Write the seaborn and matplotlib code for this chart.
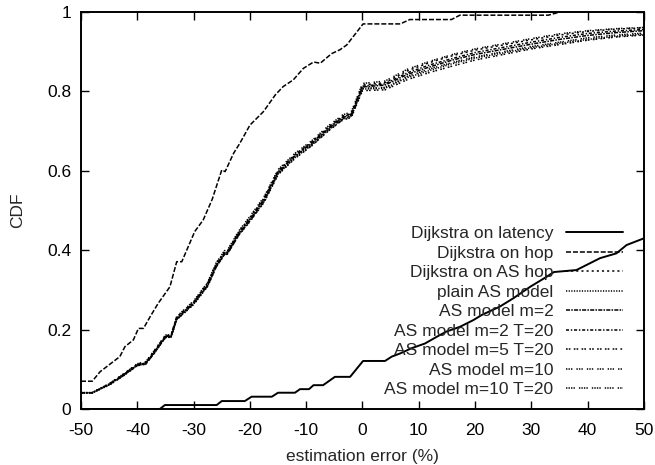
import matplotlib
matplotlib.use("Agg")
import matplotlib.pyplot as plt
import seaborn as sns

# ---------------- data ----------------
lat_x = [-50, -36, -35.1, -25.9, -25, -20.9, -19.7, -16.1, -15, -12, -11.1, -9.5, -8.7, -7, -4.9, -2.2,
         0.1, 4, 5.2, 6.7, 8.7, 11.1, 13.2, 14.9, 17.3, 19.7, 21.2, 24.4, 26.8, 29.8, 32.7, 34,
         38, 42.2, 45.1, 46.9, 50]
lat_y = [0, 0, .010, .010, .020, .020, .031, .031, .041, .041, .050, .050, .060, .060, .081, .081,
         .121, .121, .132, .140, .153, .165, .182, .195, .207, .224, .237, .258, .279, .308, .333, .345,
         .350, .380, .392, .413, .430]

hop_x = [-50, -48, -46.6, -43.1, -42.2, -40.7, -39.8, -38.9, -37.7, -36.3, -34.2, -33, -32.1, -29.8,
         -28.3, -26.7, -25, -24.4, -22.9, -21.8, -20, -18.8, -17.6, -15.5, -14.1, -12.3, -10.5, -8.7,
         -7.5, -5.5, -4, -2.8, 0.1, 6.7, 8.4, 15.8, 17.3, 33, 35.1, 50]
hop_y = [.070, .070, .094, .132, .157, .174, .203, .203, .233, .266, .308, .371, .371, .447,
         .476, .528, .602, .598, .644, .669, .715, .732, .749, .791, .812, .829, .858, .874,
         .871, .895, .905, .917, .970, .970, .981, .981, .992, .992, 1.0, 1.0]

bx = [-50, -48, -45, -42.5, -40, -38.5, -37, -35, -34, -33, -30, -27.5, -26, -24.5, -24, -22, -20,
      -17.5, -15, -12, -9, -6, -3.5, -2, 0, 4, 8, 12, 16, 20, 25, 30, 35, 40, 45, 50]

ashop_y = [.041, .041, .063, .087, .113, .118, .146, .185, .186, .232, .270, .318, .366, .397, .398,
           .446, .482, .531, .600, .641, .673, .711, .738, .744, .816, .822, .852, .873, .890, .904,
           .917, .930, .942, .951, .957, .960]
plain_y = [.041, .041, .061, .084, .110, .114, .141, .181, .182, .226, .264, .310, .358, .390, .391,
           .438, .474, .522, .592, .633, .665, .703, .730, .737, .806, .808, .835, .853, .870, .884,
           .897, .910, .921, .931, .939, .944]
m2_y = [.041, .041, .062, .086, .111, .116, .143, .183, .184, .229, .267, .313, .361, .393, .394,
        .441, .477, .526, .596, .637, .669, .707, .734, .741, .811, .816, .843, .862, .879, .893,
        .906, .919, .931, .941, .948, .953]
m2t20_y = [.041, .041, .063, .085, .112, .115, .142, .182, .183, .227, .268, .314, .363, .394, .395,
           .443, .479, .528, .598, .639, .671, .709, .736, .743, .813, .819, .847, .867, .883, .898,
           .911, .924, .936, .946, .952, .956]
m5t20_y = [.041, .041, .060, .083, .109, .113, .140, .180, .181, .225, .263, .309, .357, .389, .390,
           .437, .472, .520, .590, .631, .663, .701, .728, .734, .802, .804, .830, .848, .864, .879,
           .893, .907, .918, .929, .937, .942]
m10_y = [.041, .041, .064, .088, .114, .119, .147, .186, .187, .233, .272, .319, .368, .399, .400,
         .448, .485, .534, .603, .644, .676, .714, .741, .748, .820, .826, .856, .876, .893, .907,
         .920, .933, .945, .953, .958, .961]
m10t20_y = [.041, .041, .061, .084, .110, .113, .141, .180, .181, .226, .265, .311, .359, .390, .391,
            .439, .475, .523, .593, .634, .666, .704, .731, .738, .808, .810, .838, .857, .873, .887,
            .900, .913, .924, .935, .942, .947]

labels = ["Dijkstra on latency", "Dijkstra on hop", "Dijkstra on AS hop", "plain AS model",
          "AS model m=2", "AS model m=2 T=20", "AS model m=5 T=20", "AS model m=10",
          "AS model m=10 T=20"]

x_ticks = [-50, -40, -30, -20, -10, 0, 10, 20, 30, 40, 50]
y_ticks = [0, 0.2, 0.4, 0.6, 0.8, 1.0]
y_ticklabels = ["0", "0.2", "0.4", "0.6", "0.8", "1"]

# ---------------- style ----------------
sns.set_theme(style="ticks")
plt.rcParams["font.family"] = ["Liberation Sans", "DejaVu Sans"]
plt.rcParams["lines.scale_dashes"] = False

fig = plt.figure(figsize=(6.55, 4.65), dpi=100)
ax = fig.add_axes([81 / 655, 1 - 409 / 465, 563 / 655, 397 / 465])

series = [
    (lat_x, lat_y, "-", 1.4),
    (hop_x, hop_y, (0, (3.6, 1.4)), 1.1),
    (bx, ashop_y, (0, (1.5, 2.2)), 1.1),
    (bx, plain_y, (0, (0.9, 1.0)), 1.1),
    (bx, m2_y, (0, (2.9, 0.9, 1.1, 0.9)), 1.1),
    (bx, m2t20_y, (0, (2.2, 1.3, 1.0, 1.3)), 1.1),
    (bx, m5t20_y, (0, (1.2, 0.8, 1.2, 2.4)), 1.1),
    (bx, m10_y, (0, (1.0, 0.8, 1.0, 0.8, 1.0, 2.9)), 1.1),
    (bx, m10t20_y, (0, (1.0, 0.8, 1.0, 0.8, 1.0, 0.8, 1.0, 2.9)), 1.1),
]
for (xs, ys, ls, lw), lab in zip(series, labels):
    sns.lineplot(x=xs, y=ys, ax=ax, color="black", linestyle=ls, linewidth=lw,
                 label=lab, estimator=None, sort=False, legend=False)

ax.set_xlim(-50, 50)
ax.set_ylim(0, 1)
ax.set_xticks(x_ticks)
ax.set_xticklabels([str(t) for t in x_ticks])
ax.set_yticks(y_ticks)
ax.set_yticklabels(y_ticklabels)
ax.tick_params(direction="in", length=6, width=1.0, top=True, right=True,
               labelsize=12.5, colors="black")
ax.tick_params(axis="x", pad=10)
ax.tick_params(axis="y", pad=7)
for s in ax.spines.values():
    s.set_linewidth(1.4)
    s.set_color("black")
ax.set_xlabel("estimation error (%)", fontsize=12.5, labelpad=8)
ax.set_ylabel("CDF", fontsize=12.5, labelpad=16)

handles, labs = ax.get_legend_handles_labels()
ax.legend(handles, labs, loc="upper right",
          bbox_to_anchor=((623 - 81) / 563, (409 - 226) / 397),
          frameon=False, markerfirst=False, fontsize=12.5, borderpad=0,
          borderaxespad=0, handlelength=3.3, handletextpad=0.7, labelspacing=0.25)

fig.savefig("out.png", dpi=100)
